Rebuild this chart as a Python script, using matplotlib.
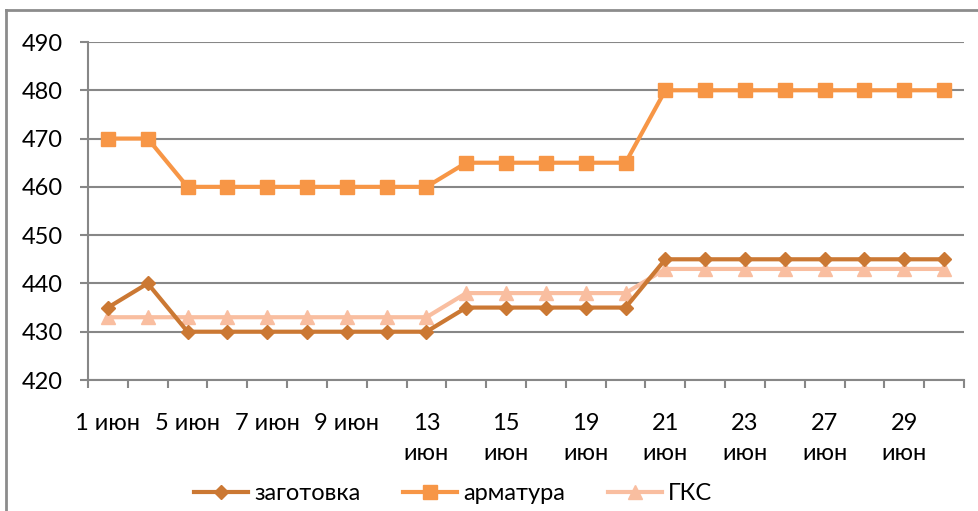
import matplotlib
matplotlib.use("Agg")
import matplotlib.pyplot as plt
from matplotlib.lines import Line2D

plt.rcParams['font.family'] = ['Lato', 'DejaVu Sans']

dates = ["1 июн", "4 июн", "5 июн", "6 июн", "7 июн", "8 июн", "9 июн", "11 июн",
         "13 июн", "14 июн", "15 июн", "18 июн", "19 июн", "20 июн", "21 июн", "22 июн",
         "23 июн", "26 июн", "27 июн", "28 июн", "29 июн", "30 июн"]
zagotovka = [435, 440, 430, 430, 430, 430, 430, 430, 430, 435, 435, 435, 435, 435,
             445, 445, 445, 445, 445, 445, 445, 445]
armatura = [470, 470, 460, 460, 460, 460, 460, 460, 460, 465, 465, 465, 465, 465,
            480, 480, 480, 480, 480, 480, 480, 480]
gks = [433, 433, 433, 433, 433, 433, 433, 433, 433, 438, 438, 438, 438, 438,
       443, 443, 443, 443, 443, 443, 443, 443]
series_names = ["заготовка", "арматура", "ГКС"]
yticks = [420, 430, 440, 450, 460, 470, 480, 490]

c_zag = "#CB7833"
c_arm = "#F79646"
c_gks = "#F9BEA0"
grid_c = "#878787"
FS = 17

fig = plt.figure(figsize=(9.79, 5.11), dpi=100)
# outer chart border (top and left visible)
fig.add_artist(Line2D([6/979, 6/979], [0, 1 - 10/511], transform=fig.transFigure,
                      color="#8C8C8C", lw=2))
fig.add_artist(Line2D([6/979, 1], [1 - 10/511, 1 - 10/511], transform=fig.transFigure,
                      color="#8C8C8C", lw=2))

ax = fig.add_axes([88/979, 1 - 380/511, (964 - 88)/979, (380 - 42)/511])
x = list(range(len(dates)))

ax.plot(x, zagotovka, color=c_zag, lw=3, marker="D", ms=7.5, label=series_names[0], zorder=3)
ax.plot(x, armatura, color=c_arm, lw=3, marker="s", ms=10, label=series_names[1], zorder=3)
ax.plot(x, gks, color=c_gks, lw=3, marker="^", ms=10, label=series_names[2], zorder=2)

ax.set_xlim(-0.5, len(dates) - 0.5)
ax.set_ylim(420, 490)
ax.set_yticks(yticks)
ax.yaxis.grid(True, color=grid_c, lw=1.5)
ax.set_axisbelow(True)
for s in ["top", "right"]:
    ax.spines[s].set_visible(False)
for s in ["left", "bottom"]:
    ax.spines[s].set_color(grid_c)
    ax.spines[s].set_linewidth(1.5)
ax.tick_params(axis="y", length=6, width=1.5, color=grid_c, labelsize=FS, pad=12)

# x ticks at category boundaries
ax.set_xticks([i - 0.5 for i in range(len(dates) + 1)])
ax.set_xticklabels([])
ax.tick_params(axis="x", which="major", length=6, width=1.5, color=grid_c)

def wrap(lbl):
    d, m = lbl.split(" ")
    return lbl if len(d) == 1 else d + "\n" + m

minor_pos = x[::2]
ax.set_xticks(minor_pos, minor=True)
ax.set_xticklabels([wrap(dates[i]) for i in minor_pos], minor=True,
                   fontsize=FS, linespacing=1.5, va="top")
ax.tick_params(axis="x", which="minor", length=0, pad=24)

leg = fig.legend(loc="center", bbox_to_anchor=(453/979, 1 - 494/511), ncol=3,
                 frameon=False, fontsize=FS, handlelength=2.3, columnspacing=1.8,
                 handletextpad=0.25)

fig.savefig("out.png", dpi=100)
